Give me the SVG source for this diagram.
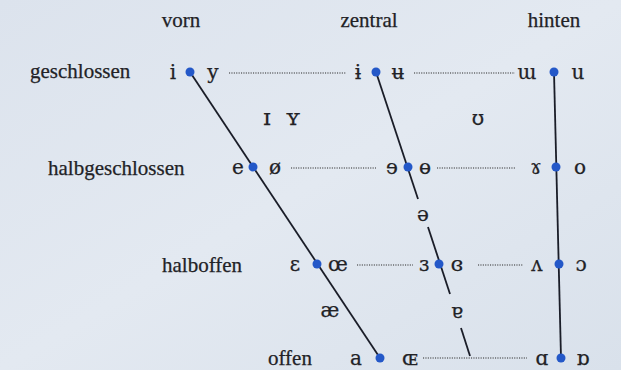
<svg xmlns="http://www.w3.org/2000/svg" width="621" height="370" viewBox="0 0 621 370">
<defs>
<linearGradient id="bg" x1="0" y1="0" x2="1" y2="1">
<stop offset="0" stop-color="#dce3ed"/>
<stop offset="0.5" stop-color="#e3e9f1"/>
<stop offset="1" stop-color="#d9e1eb"/>
</linearGradient>
<style>
text{font-family:"Liberation Serif","DejaVu Serif",serif;fill:#222226;stroke:#222226;stroke-width:0.25}
.lab{font-size:21px}
.hd{font-size:21px;text-anchor:middle}
.v{font-family:"DejaVu Serif","Liberation Serif",serif;font-size:20px;text-anchor:middle}
.vl{font-size:23px}
.dot{fill:#2458c8}
.ln{stroke:#1a1d28;stroke-width:1.8;fill:none}
.dt{stroke:#2a2a2a;stroke-width:1.1;stroke-dasharray:1.1 1.3;fill:none}
</style>
</defs>
<rect width="621" height="370" fill="url(#bg)"/>
<g id="headers">
<text class="hd" x="181" y="27">vorn</text>
<text class="hd" x="369" y="27">zentral</text>
<text class="hd" x="554" y="27">hinten</text>
</g>
<g id="row-labels">
<text class="lab" x="30" y="78">geschlossen</text>
<text class="lab" x="48" y="175">halbgeschlossen</text>
<text class="lab" x="162" y="272">halboffen</text>
<text class="lab" x="268" y="365">offen</text>
</g>
<g id="connectors">
<line class="ln" x1="190" y1="72" x2="380" y2="358"/>
<line class="ln" x1="376" y1="72" x2="418" y2="199"/>
<line class="ln" x1="428" y1="227" x2="450" y2="294"/>
<line class="ln" x1="461" y1="328" x2="470" y2="356"/>
<line class="ln" x1="554" y1="72" x2="561" y2="358"/>
<line class="dt" x1="229" y1="73" x2="346" y2="73"/>
<line class="dt" x1="414" y1="73" x2="515" y2="73"/>
<line class="dt" x1="291" y1="168" x2="376" y2="168"/>
<line class="dt" x1="437" y1="168" x2="516" y2="168"/>
<line class="dt" x1="357" y1="265" x2="413" y2="265"/>
<line class="dt" x1="478" y1="265" x2="523" y2="265"/>
<line class="dt" x1="423" y1="358" x2="527" y2="358"/>
</g>
<g id="node-close">
<text class="v" x="173" y="79">i</text>
<text class="v" x="213" y="79">y</text>
<text class="v" x="358" y="79">ɨ</text>
<text class="v" x="398" y="79">ʉ</text>
<text class="v" x="527" y="79">ɯ</text>
<text class="v" x="578" y="79">u</text>
<circle class="dot" cx="190" cy="72" r="4.5"/>
<circle class="dot" cx="376" cy="72" r="4.5"/>
<circle class="dot" cx="554" cy="72" r="4.5"/>
</g>
<g id="node-near-close">
<text class="v vl" x="267" y="125">ɪ</text>
<text class="v vl" x="293" y="125">ʏ</text>
<text class="v" x="478" y="125">ʊ</text>
</g>
<g id="node-close-mid">
<text class="v" x="238" y="174">e</text>
<text class="v" x="275" y="174">ø</text>
<text class="v" x="392" y="174">ɘ</text>
<text class="v" x="425" y="174">ɵ</text>
<text class="v" x="536" y="174">ɤ</text>
<text class="v" x="580" y="174">o</text>
<circle class="dot" cx="253" cy="167" r="4.5"/>
<circle class="dot" cx="408" cy="167" r="4.5"/>
<circle class="dot" cx="556" cy="167" r="4.5"/>
</g>
<g id="node-mid">
<text class="v" x="423" y="221">ə</text>
</g>
<g id="node-open-mid">
<text class="v" x="295" y="271">ɛ</text>
<text class="v" x="338" y="271">œ</text>
<text class="v" x="424" y="271">ɜ</text>
<text class="v" x="457" y="271">ɞ</text>
<text class="v" x="537" y="271">ʌ</text>
<text class="v" x="581" y="271">ɔ</text>
<circle class="dot" cx="317" cy="264" r="4.5"/>
<circle class="dot" cx="439" cy="264" r="4.5"/>
<circle class="dot" cx="559" cy="264" r="4.5"/>
</g>
<g id="node-near-open">
<text class="v" x="330" y="317">æ</text>
<text class="v" x="457" y="318">ɐ</text>
</g>
<g id="node-open">
<text class="v" x="356" y="365">a</text>
<text class="v" x="410" y="365">ɶ</text>
<text class="v" x="542" y="365">ɑ</text>
<text class="v" x="583" y="365">ɒ</text>
<circle class="dot" cx="380" cy="358" r="4.5"/>
<circle class="dot" cx="561" cy="358" r="4.5"/>
</g>
</svg>
